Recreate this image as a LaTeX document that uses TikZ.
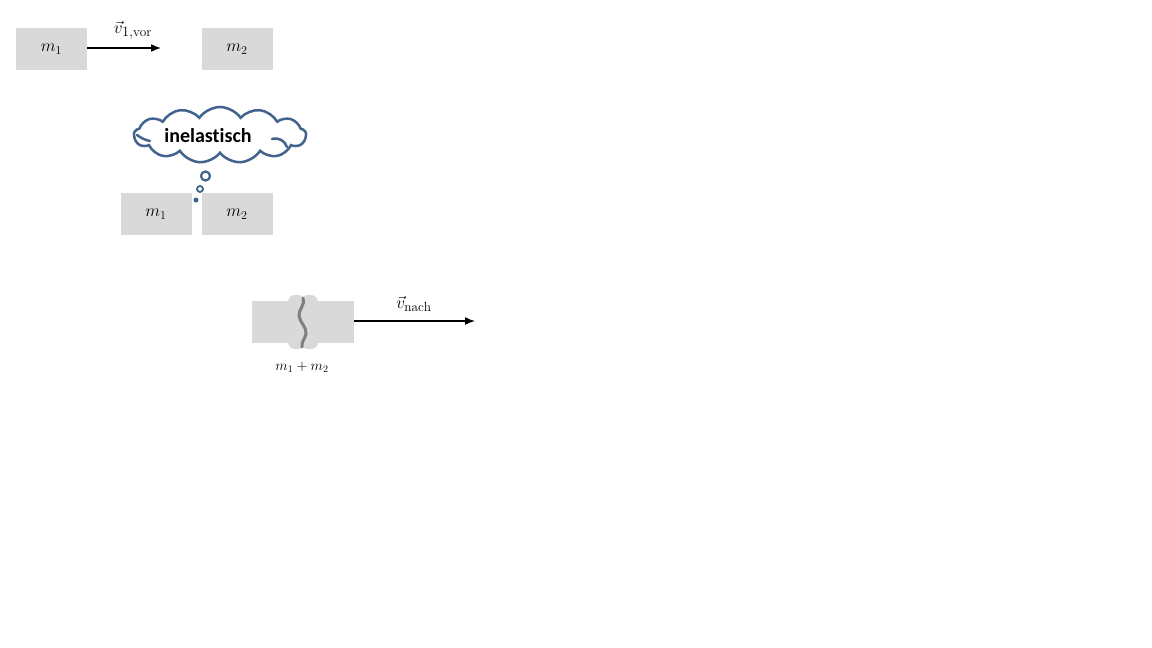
\documentclass[tikz,border=0pt]{standalone}
\usepackage{fontspec}
\newfontfamily\cloudfont[Ligatures=NoCommon]{Carlito}
\usetikzlibrary{shapes.symbols,arrows.meta}
\definecolor{boxgrey}{HTML}{D9D9D9}
\definecolor{cloudblue}{HTML}{41638D}
\definecolor{wavegrey}{HTML}{7F7F7F}
\tikzset{
  massbox/.style={fill=boxgrey,draw=none,minimum width=71pt,minimum height=42pt,inner sep=0pt,font=\fontsize{17}{19}\selectfont},
  vecarrow/.style={line width=1.4pt,-{Latex[length=10pt,width=8pt]}},
  veclabel/.style={font=\fontsize{19}{21}\selectfont,inner sep=1pt},
  bubble/.style={draw=cloudblue,line width=2.2pt,fill=white,circle,inner sep=0pt},
  curl/.style={draw=cloudblue,line width=2.5pt,line cap=round}
}
\begin{document}
\begin{tikzpicture}[x=1pt,y=-1pt]
\useasboundingbox[fill=white] (0,0) rectangle (1152,648);
% top row
\node[massbox] (m1a) at (51.5,49) {$m_1$};
\node[massbox] (m2a) at (237,49) {$m_2$};
\coordinate (va) at (161,48);
\draw[vecarrow] (m1a.east |- va) -- (va);
\node[veclabel] (lva) at (133,30) {$\vec{v}_{1,\mathrm{vor}}$};
% cloud
\node[cloud,cloud puffs=13,cloud puff arc=110,aspect=3,draw=cloudblue,line width=2.5pt,fill=white,
      minimum width=172pt,minimum height=56pt,inner sep=0pt]
      (cl) at (220,135) {};
\node[font=\cloudfont\bfseries\fontsize{20}{22}\selectfont,inner sep=0pt] (cltext) at (208,136) {inelastisch};
\draw[curl] (137,135) .. controls (141,138) and (145,140) .. (150,141);
\draw[curl] (272,139) .. controls (279,137) and (285,141) .. (287,147);
\node[bubble,minimum size=9pt] (b1) at (205.5,176) {};
\node[bubble,minimum size=6pt,line width=1.8pt] (b2) at (200,189) {};
\node[circle,fill=cloudblue,minimum size=5pt,inner sep=0pt] (b3) at (196,200) {};
% middle row
\node[massbox] (m1b) at (156,214) {$m_1$};
\node[massbox] (m2b) at (237,214) {$m_2$};
% merged
\node[fill=boxgrey,minimum width=102pt,minimum height=42pt,inner sep=0pt] (mm) at (303,322) {};
\fill[boxgrey,rounded corners=7pt] (288,295) rectangle (305,349);
\fill[boxgrey,rounded corners=7pt] (301,295) rectangle (318,349);
\draw[wavegrey,line width=3pt,line cap=round] (303,298) .. controls (306,304) and (298,310) .. (299,316)
   .. controls (300,323) and (307,327) .. (306,334) .. controls (305,339) and (301,342) .. (302,347);
\coordinate (vb) at (475,321);
\draw[vecarrow] (mm.east |- vb) -- (vb);
\node[veclabel] (lvb) at (414,304) {$\vec{v}_{\mathrm{nach}}$};
\node[font=\fontsize{14}{16}\selectfont] (lmm) at (302,367) {$m_1+m_2$};
\end{tikzpicture}
\end{document}
